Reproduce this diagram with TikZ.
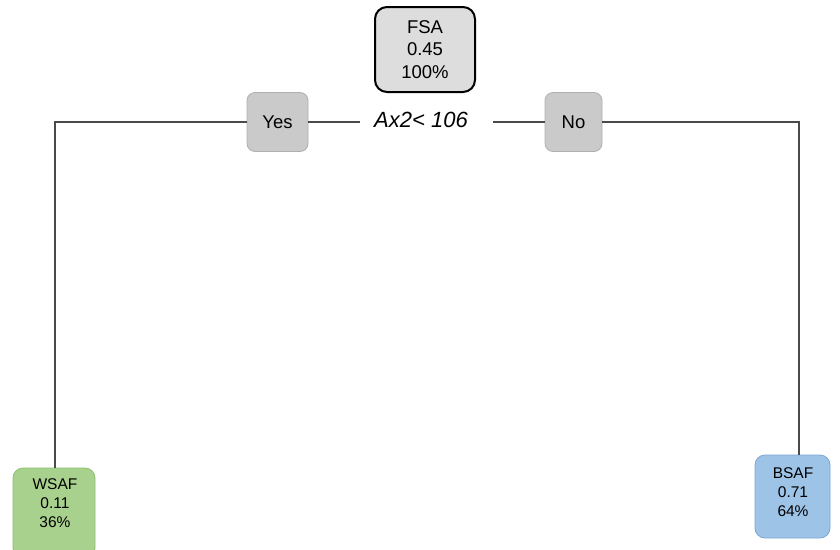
\documentclass[tikz,border=0pt]{standalone}
\usepackage{fontspec}
\setmainfont{Liberation Sans}
\definecolor{linegray}{HTML}{4A4A4A}
\definecolor{rootfill}{HTML}{DDDDDD}
\definecolor{splitfill}{HTML}{CACACA}
\definecolor{splitdraw}{HTML}{B0B0B0}
\definecolor{greenfill}{HTML}{A9D18E}
\definecolor{greendraw}{HTML}{8DBF6E}
\definecolor{bluefill}{HTML}{9DC3E6}
\definecolor{bluedraw}{HTML}{7CA6D6}
\begin{document}
\begin{tikzpicture}[x=1pt,y=-1pt,
  rootbox/.style={draw=black, line width=2pt, fill=rootfill, rounded corners=12pt,
    minimum width=100pt, minimum height=85pt, align=center, inner sep=0pt,
    font=\fontsize{18.5}{22.5}\selectfont},
  splitbox/.style={draw=splitdraw, line width=0.8pt, fill=splitfill, rounded corners=8pt,
    minimum height=59pt, inner sep=0pt, font=\fontsize{18.5}{22}\selectfont},
  leafbox/.style={line width=0.8pt, rounded corners=10pt, inner sep=0pt},
  leaftext/.style={align=center, inner sep=0pt, font=\fontsize{15.5}{19}\selectfont},
  edge/.style={draw=linegray, line width=1.3pt}
]
\clip (0,0) rectangle (840,549);
\fill[white] (0,0) rectangle (840,549);

% root and split nodes
\node[rootbox] (root) at (425,49.5) {FSA\\0.45\\100\%};
\node[splitbox, minimum width=61pt] (yes) at (277.5,122) {Yes};
\node[splitbox, minimum width=57pt] (no) at (573.5,122) {No};
\node[inner sep=0pt, font=\fontsize{22}{26}\selectfont\itshape] (cond) at (421,120) {Ax2< 106};

% leaves
\node[leafbox, draw=greendraw, fill=greenfill, minimum width=82pt, minimum height=90pt] (wsaf) at (54,513) {};
\node[leaftext] (wsaftext) at (55,503) {WSAF\\0.11\\36\%};
\node[leafbox, draw=bluedraw, fill=bluefill, minimum width=75pt, minimum height=83pt] (bsaf) at (792.5,496.5) {};
\node[leaftext] (bsaftext) at (793,492) {BSAF\\0.71\\64\%};

% corner and gap points of the branch lines
\coordinate (lc) at (55,122);
\coordinate (lb) at (55,468);
\coordinate (rc) at (799,122);
\coordinate (rb) at (799,455);
\coordinate (ca) at (360,122);
\coordinate (cb) at (493,122);

% branches
\draw[edge] (yes.west) -- (lc) -- (lb);
\draw[edge] (yes.east) -- (ca);
\draw[edge] (cb) -- (no.west);
\draw[edge] (no.east) -- (rc) -- (rb);
\end{tikzpicture}
\end{document}
